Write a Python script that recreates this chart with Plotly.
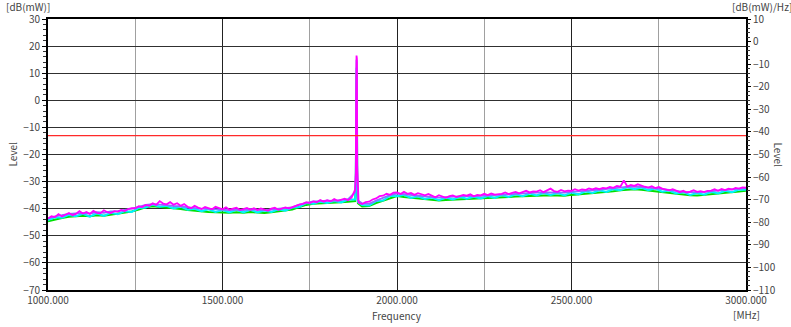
import plotly.graph_objects as go

# ---------------- data ----------------
freq_10 = list(range(1000, 3001, 10))   # magenta trace grid (MHz)
freq_20 = list(range(1000, 3001, 20))   # other traces grid (MHz)
peak_freq = [1882, 1883, 1884, 1885, 1886, 1888]

magenta_vals = [
    -43.6, -42.8, -43.1, -42.0, -42.9, -42.3, -41.6, -42.4, -41.9, -40.9,
    -41.8, -41.2, -41.9, -40.8, -41.5, -41.7, -40.6, -41.3, -41.6, -40.9,
    -41.1, -40.5, -40.9, -40.1, -39.8, -39.9, -39.1, -39.4, -38.6, -38.9,
    -38.0, -38.6, -37.2, -38.1, -38.4, -37.6, -38.5, -38.0, -38.9, -38.3,
    -39.3, -39.8, -38.9, -39.6, -40.1, -39.4, -39.9, -40.2, -39.3, -39.8,
    -40.2, -39.5, -40.4, -40.0, -39.6, -40.5, -40.1, -39.7, -40.4, -39.8,
    -40.5, -39.9, -40.3, -40.8, -40.0, -39.6, -40.4, -39.8, -39.5, -39.9,
    -39.4, -38.9, -38.5, -38.2, -37.6, -37.9, -37.3, -37.6, -36.8, -37.4,
    -36.9, -37.3, -36.4, -37.1, -36.7, -36.3, -36.9, -35.8, -33.0, -37.8,
    -38.3, -37.6, -37.4, -36.6, -36.2, -35.4, -35.2, -34.5, -34.9, -34.1,
    -34.0, -34.6, -33.8, -34.5, -34.2, -34.9, -34.3, -34.8, -35.1, -34.6,
    -35.3, -35.8, -35.0, -35.6, -36.0, -35.4, -35.1, -35.7, -35.2, -34.9,
    -35.2, -34.7, -35.4, -34.9, -35.1, -34.5, -35.0, -34.4, -34.8, -34.6,
    -34.5, -34.0, -34.6, -34.2, -33.8, -34.3, -33.9, -33.4, -34.0, -33.6,
    -33.7, -33.2, -33.9, -33.4, -32.6, -33.5, -33.8, -33.1, -33.6, -33.3,
    -33.4, -32.8, -33.3, -32.9, -33.1, -32.5, -32.9, -32.4, -32.8, -32.3,
    -32.5, -32.0, -32.3, -31.6, -31.9, -29.6, -31.8, -31.2, -31.6, -31.0,
    -31.5, -31.9, -32.2, -31.7, -32.4, -32.0, -32.6, -32.9, -33.2, -32.8,
    -33.5, -33.9, -33.4, -34.0, -33.7, -33.2, -33.8, -33.5, -33.9, -33.4,
    -33.3, -32.8, -33.4, -32.7, -33.1, -32.6, -32.9, -32.3, -32.6, -32.1,
    -32.2,
]
magenta_peak = [-26.5, 2.0, 16.5, 15.5, -24.0, -36.5]

blue_vals = [
    -43.6, -42.8, -42.4, -41.9, -41.7, -41.6, -41.8, -41.3, -41.5, -41.0,
    -40.9, -40.5, -40.0, -39.3, -38.6, -38.3, -38.4, -38.7, -39.0, -39.1,
    -39.5, -39.8, -40.0, -40.1, -40.3, -40.4, -40.5, -40.3, -40.5, -40.2,
    -40.5, -40.6, -40.3, -40.1, -39.8, -39.5, -38.5, -37.8, -37.3, -37.2,
    -37.0, -37.1, -36.8, -36.5, -34.0, -38.0, -38.2, -37.0, -36.0, -35.0,
    -34.4, -34.7, -35.0, -35.2, -35.4, -35.7, -35.9, -35.7, -35.6, -35.4,
    -35.3, -35.4, -35.2, -35.1, -35.0, -34.8, -34.7, -34.5, -34.4, -34.2,
    -34.1, -34.0, -34.0, -34.1, -34.1, -33.8, -33.7, -33.4, -33.2, -33.0,
    -32.8, -32.6, -32.2, -31.9, -31.8, -32.0, -32.2, -32.5, -32.8, -33.1,
    -33.5, -33.8, -33.9, -34.0, -33.8, -33.6, -33.4, -33.2, -32.9, -32.7,
    -32.4,
]
blue_peak = [-27.0, 0.0, 15.0, 14.0, -26.0, -37.0]

cyan_vals = [
    -44.2, -43.2, -43.3, -42.3, -42.8, -41.9, -42.9, -41.7, -42.7, -41.5,
    -42.0, -40.9, -41.2, -39.7, -39.6, -38.5, -39.3, -38.9, -39.9, -39.2,
    -40.4, -40.0, -40.9, -40.2, -41.2, -40.5, -41.4, -40.4, -41.4, -40.3,
    -41.4, -40.7, -41.2, -40.2, -40.7, -39.6, -39.4, -37.9, -38.2, -37.4,
    -37.9, -37.2, -37.7, -36.6, -36.6, -38.6, -38.8, -37.2, -37.0, -35.2,
    -35.4, -34.9, -36.0, -35.4, -36.4, -35.9, -36.9, -35.9, -36.6, -35.6,
    -36.3, -35.6, -36.2, -35.3, -36.0, -35.0, -35.7, -34.7, -35.4, -34.4,
    -35.1, -34.2, -34.9, -34.2, -35.1, -34.0, -34.7, -33.6, -34.2, -33.2,
    -33.8, -32.8, -33.2, -32.1, -32.8, -32.2, -33.2, -32.6, -33.7, -33.3,
    -34.4, -33.9, -34.9, -34.2, -34.8, -33.8, -34.4, -33.4, -33.9, -32.9,
    -33.0,
]
cyan_peak = [-30.0, -5.0, 12.0, 10.0, -30.0, -37.5]

green_vals = [
    -44.6, -43.9, -43.4, -43.0, -42.9, -42.6, -42.8, -42.4, -42.6, -42.2,
    -42.0, -41.5, -41.0, -40.3, -39.5, -39.1, -39.3, -39.6, -39.9, -40.1,
    -40.5, -40.8, -41.0, -41.2, -41.3, -41.4, -41.5, -41.3, -41.5, -41.2,
    -41.4, -41.6, -41.3, -41.0, -40.7, -40.3, -39.4, -38.6, -38.2, -38.1,
    -37.8, -37.9, -37.6, -37.4, -37.2, -39.2, -39.0, -37.9, -37.0, -36.0,
    -35.3, -35.7, -36.0, -36.3, -36.6, -36.8, -37.0, -36.8, -36.7, -36.4,
    -36.3, -36.4, -36.2, -36.1, -36.0, -35.9, -35.7, -35.5, -35.4, -35.2,
    -35.1, -35.0, -35.0, -35.1, -35.2, -34.9, -34.7, -34.4, -34.2, -34.0,
    -33.8, -33.6, -33.2, -32.9, -32.8, -33.0, -33.3, -33.5, -33.8, -34.2,
    -34.6, -34.9, -35.0, -35.1, -34.9, -34.6, -34.4, -34.2, -33.9, -33.7,
    -33.4,
]
green_peak = [-31.0, -8.0, 10.0, 8.0, -32.0, -38.0]

limit_level = -13.0

x_tickvals = [1000, 1500, 2000, 2500, 3000]
x_ticktext = ["1000.000", "1500.000", "2000.000", "2500.000", "3000.000"]


def merged(freqs, vals, pf, pv):
    pts = sorted(list(zip(freqs, vals)) + list(zip(pf, pv)))
    return [p[0] for p in pts], [p[1] for p in pts]


FONT = "Noto Sans CJK KR, Noto Sans, sans-serif"
TXT = "#444444"

fig = go.Figure()
for name, fr, vals, pk, col, w in [
    ("green", freq_20, green_vals, green_peak, "#00e000", 2.0),
    ("cyan", freq_20, cyan_vals, cyan_peak, "#00f0ff", 2.0),
    ("blue", freq_20, blue_vals, blue_peak, "#8a70ff", 1.8),
    ("magenta", freq_10, magenta_vals, magenta_peak, "#ff00ff", 1.8),
]:
    xs, ys = merged(fr, vals, peak_freq, pk)
    fig.add_trace(go.Scatter(x=xs, y=ys, mode="lines", name=name,
                             line=dict(color=col, width=w), showlegend=False))

# invisible trace to activate right axis
fig.add_trace(go.Scatter(x=[1000], y=[-110], yaxis="y2", mode="markers",
                         marker=dict(opacity=0), showlegend=False, hoverinfo="skip"))

fig.add_hline(y=limit_level, line=dict(color="#ff2a2a", width=1.2), layer="above")


def note(text, x, y, xs=0, ys=0, angle=0):
    return dict(text=text, xref="paper", yref="paper", x=x, y=y, xshift=xs, yshift=ys,
                xanchor="center", yanchor="middle", showarrow=False, textangle=angle,
                font=dict(size=10, color=TXT))


fig.update_layout(
    width=791, height=327,
    margin=dict(l=48, r=45, t=19, b=37, autoexpand=False),
    paper_bgcolor="white", plot_bgcolor="white",
    font=dict(family=FONT, size=10, color=TXT),
    xaxis=dict(
        range=[1000, 3000], tickvals=x_tickvals, ticktext=x_ticktext,
        showgrid=True, gridcolor="#222222", gridwidth=1,
        minor=dict(dtick=250, tick0=1000, showgrid=True, gridcolor="#a0a0a0", gridwidth=1, ticks=""),
        showline=True, linecolor="black", linewidth=2, mirror=True,
        ticks="", zeroline=False, tickfont=dict(size=10, color=TXT), automargin=False,
    ),
    yaxis=dict(
        range=[-70, 30], dtick=10, tick0=0,
        showgrid=True, gridcolor="#303030", gridwidth=1,
        showline=True, linecolor="black", linewidth=2, mirror=True,
        ticks="outside", ticklen=4, tickcolor="black",
        minor=dict(dtick=2, ticks="outside", ticklen=3, tickcolor="#333", showgrid=False),
        zeroline=False, tickfont=dict(size=10, color=TXT), automargin=False,
    ),
    yaxis2=dict(
        range=[-110, 10], dtick=10, tick0=0, overlaying="y", side="right",
        showgrid=False, zeroline=False,
        ticks="outside", ticklen=4, tickcolor="black",
        minor=dict(dtick=2, ticks="outside", ticklen=3, tickcolor="#333", showgrid=False),
        tickfont=dict(size=10, color=TXT), automargin=False,
    ),
    annotations=[
        note("Level", 0, 0.5, xs=-36, angle=-90),
        note("Level", 1, 0.5, xs=32, angle=90),
        note("Frequency", 0.5, 0, ys=-25),
        note("[MHz]", 1, 0, ys=-24),
        note("[dB(mW)]", 0, 1, xs=-20, ys=13),
        note("[dB(mW)/Hz]", 1, 1, xs=16, ys=13),
    ],
)

fig.write_html("out.html", config={"displayModeBar": False},
               post_script="document.body.style.margin='0';")
